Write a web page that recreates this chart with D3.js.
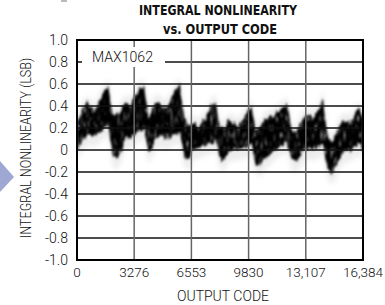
<!DOCTYPE html>
<html>
<head>
<meta charset="utf-8">
<script src="https://cdn.jsdelivr.net/npm/d3@7/dist/d3.min.js"></script>
<style>
  body { margin: 0; background: #fff; }
  svg { display: block; }
  text { font-family: Roboto, "Liberation Sans", sans-serif; font-weight: 300; fill: #111; }
</style>
</head>
<body>
<svg id="chart" width="385" height="305"></svg>
<script>
// INL band, sampled every 256 codes (upper / lower edge of the noisy trace)
var codes = d3.range(0, 16385, 256);
var inlHigh = [0.25, 0.35, 0.42, 0.40, 0.35, 0.45, 0.52, 0.58,
               0.30, 0.32, 0.38, 0.44, 0.40, 0.50, 0.56, 0.58,
               0.30, 0.40, 0.45, 0.40, 0.38, 0.45, 0.55, 0.58,
               0.28, 0.22, 0.25, 0.22, 0.25, 0.30, 0.40, 0.44,
               0.20, 0.20, 0.27, 0.25, 0.22, 0.27, 0.33, 0.40,
               0.18, 0.20, 0.28, 0.30, 0.30, 0.35, 0.38, 0.42,
               0.18, 0.15, 0.25, 0.30, 0.33, 0.30, 0.35, 0.47,
               0.12, 0.08, 0.15, 0.25, 0.27, 0.25, 0.30, 0.38, 0.30];
var inlLow  = [0.00, 0.08, 0.12, 0.15, 0.12, 0.16, 0.20, 0.22,
              -0.05, -0.08, 0.00, 0.12, 0.10, 0.15, 0.18, 0.20,
              -0.03, 0.05, 0.12, 0.12, 0.10, 0.12, 0.15, 0.15,
              -0.05, -0.09, 0.00, 0.02, 0.03, 0.05, 0.06, 0.10,
              -0.08, -0.09, 0.00, 0.00, 0.00, 0.02, 0.03, 0.05,
              -0.12, -0.15, -0.08, -0.05, 0.00, 0.03, 0.05, 0.08,
              -0.08, -0.12, -0.05, 0.00, 0.02, 0.00, 0.03, 0.06,
              -0.15, -0.22, -0.15, -0.05, -0.02, 0.00, 0.02, 0.05, 0.00];

var xTicks = [0, 3276, 6553, 9830, 13107, 16384];
var xTickLabels = ["0", "3276", "6553", "9830", "13,107", "16,384"];
var yTicks = [1.0, 0.8, 0.6, 0.4, 0.2, 0, -0.2, -0.4, -0.6, -0.8, -1.0];
var yTickLabels = ["1.0", "0.8", "0.6", "0.4", "0.2", "0", "-0.2", "-0.4", "-0.6", "-0.8", "-1.0"];

var margin = {top: 40, left: 77, right: 22, bottom: 45},
    width = 385 - margin.left - margin.right,
    height = 305 - margin.top - margin.bottom;

var svg = d3.select('#chart');

var xScale = d3.scaleLinear().domain([0, 16384]).range([0, width]);
var yScale = d3.scaleLinear().domain([-1, 1]).range([height, 0]);

var defs = svg.append('defs');

// ragged, grainy look of the scope trace
var grain = defs.append('filter').attr('id', 'grain')
    .attr('x', '-5%').attr('y', '-40%').attr('width', '110%').attr('height', '180%');
grain.append('feTurbulence').attr('type', 'fractalNoise')
    .attr('baseFrequency', '0.4 0.06').attr('numOctaves', 2).attr('seed', 4)
    .attr('result', 'noise');
grain.append('feColorMatrix').attr('in', 'noise').attr('type', 'matrix')
    .attr('values', '1 0 0 0 0  0 0 0 0 0.5  0 0 0 0 0.5  0 0 0 0 1')
    .attr('result', 'shift');
grain.append('feDisplacementMap').attr('in', 'SourceGraphic').attr('in2', 'shift')
    .attr('scale', 11).attr('xChannelSelector', 'G').attr('yChannelSelector', 'R')
    .attr('result', 'ragged');
grain.append('feTurbulence').attr('type', 'fractalNoise')
    .attr('baseFrequency', '0.7 0.12').attr('numOctaves', 1).attr('seed', 9)
    .attr('result', 'speck');
grain.append('feColorMatrix').attr('in', 'speck').attr('type', 'matrix')
    .attr('values', '0 0 0 0 0  0 0 0 0 0  0 0 0 0 0  4 0 0 0 -0.7')
    .attr('result', 'mask');
grain.append('feComposite').attr('in', 'ragged').attr('in2', 'mask')
    .attr('operator', 'in').attr('result', 'grainy');
grain.append('feGaussianBlur').attr('in', 'grainy').attr('stdDeviation', 0.9);

defs.append('filter').attr('id', 'haze').attr('x', '-10%').attr('y', '-30%')
    .attr('width', '120%').attr('height', '160%')
    .append('feGaussianBlur').attr('stdDeviation', 2.5);
defs.append('clipPath').attr('id', 'plotclip')
    .append('rect').attr('width', width).attr('height', height);

// arrow decoration at left edge
svg.append('polygon')
    .attr('points', '0,161 14,177 0,192')
    .style('fill', '#9ea8d2');
svg.append('rect').attr('x', 61).attr('y', 0).attr('width', 6).attr('height', 2)
    .style('fill', '#bbb');

// title
svg.append('text').attr('x', 218).attr('y', 15)
    .attr('text-anchor', 'middle')
    .style('font-family', '"DejaVu Sans Condensed", "Liberation Sans", sans-serif')
    .style('font-weight', 'bold').style('font-size', '14px')
    .attr('textLength', 158).attr('lengthAdjust', 'spacingAndGlyphs')
    .text('INTEGRAL NONLINEARITY');
svg.append('text').attr('x', 220).attr('y', 34)
    .attr('text-anchor', 'middle')
    .style('font-family', '"DejaVu Sans Condensed", "Liberation Sans", sans-serif')
    .style('font-weight', 'bold').style('font-size', '14px')
    .attr('textLength', 114).attr('lengthAdjust', 'spacingAndGlyphs')
    .text('vs. OUTPUT CODE');

var chart = svg.append('g')
    .attr('transform', 'translate(' + margin.left + ',' + margin.top + ')');

var plot = chart.append('g').attr('clip-path', 'url(#plotclip)');

var band = codes.map(function(c, i) {
    return {code: c, hi: inlHigh[i], lo: inlLow[i]};
});

var haze = d3.area()
    .x(function(d) { return xScale(d.code); })
    .y0(function(d) { return yScale(d.lo - 0.1); })
    .y1(function(d) { return yScale(d.hi + 0.07); });

var area = d3.area()
    .x(function(d) { return xScale(d.code); })
    .y0(function(d) { return yScale(d.lo); })
    .y1(function(d) { return yScale(d.hi); });

plot.append('path').datum(band)
    .attr('d', haze)
    .attr('filter', 'url(#haze)')
    .style('fill', '#ededed');

plot.append('path').datum(band)
    .attr('d', area)
    .attr('filter', 'url(#grain)')
    .style('fill', '#000');

// grid
chart.selectAll('.hgrid')
    .data(yTicks.slice(1, -1))
    .enter().append('line')
    .attr('class', 'hgrid')
    .attr('x1', 0).attr('x2', width)
    .attr('y1', function(d) { return yScale(d); })
    .attr('y2', function(d) { return yScale(d); })
    .style('stroke', '#111').style('stroke-width', 1.3);

chart.selectAll('.vgrid')
    .data(xTicks.slice(1, -1))
    .enter().append('line')
    .attr('class', 'vgrid')
    .attr('x1', function(d) { return xScale(d); })
    .attr('x2', function(d) { return xScale(d); })
    .attr('y1', 0).attr('y2', height)
    .style('stroke', '#666').style('stroke-width', 1.5);

// label box
chart.append('rect')
    .attr('x', 5).attr('y', 7).attr('width', 83).attr('height', 20)
    .style('fill', '#fff');
chart.append('text')
    .attr('x', 15).attr('y', 22)
    .style('font-size', '14px')
    .attr('textLength', 61).attr('lengthAdjust', 'spacingAndGlyphs')
    .text('MAX1062');

// frame
chart.append('rect')
    .attr('width', width).attr('height', height)
    .style('fill', 'none').style('stroke', '#000').style('stroke-width', 2);

// axes labels
chart.selectAll('.ylab')
    .data(yTicks)
    .enter().append('text')
    .attr('class', 'ylab')
    .attr('x', -9)
    .attr('y', function(d) { return yScale(d); })
    .attr('dy', '0.36em')
    .attr('text-anchor', 'end')
    .style('font-size', '14px')
    .text(function(d, i) { return yTickLabels[i]; });

chart.selectAll('.xlab')
    .data(xTicks)
    .enter().append('text')
    .attr('class', 'xlab')
    .attr('x', function(d) { return xScale(d); })
    .attr('y', height + 17)
    .attr('text-anchor', 'middle')
    .style('font-size', '13.5px')
    .text(function(d, i) { return xTickLabels[i]; });

chart.append('text')
    .attr('x', width / 2 + 3).attr('y', height + 41)
    .attr('text-anchor', 'middle')
    .style('font-size', '14px')
    .text('OUTPUT CODE');

chart.append('text')
    .attr('transform', 'translate(-46,' + (height / 2 - 2) + ') rotate(-90)')
    .attr('text-anchor', 'middle')
    .style('font-size', '14px')
    .attr('textLength', 180).attr('lengthAdjust', 'spacingAndGlyphs')
    .text('INTEGRAL NONLINEARITY (LSB)');
</script>
</body>
</html>
